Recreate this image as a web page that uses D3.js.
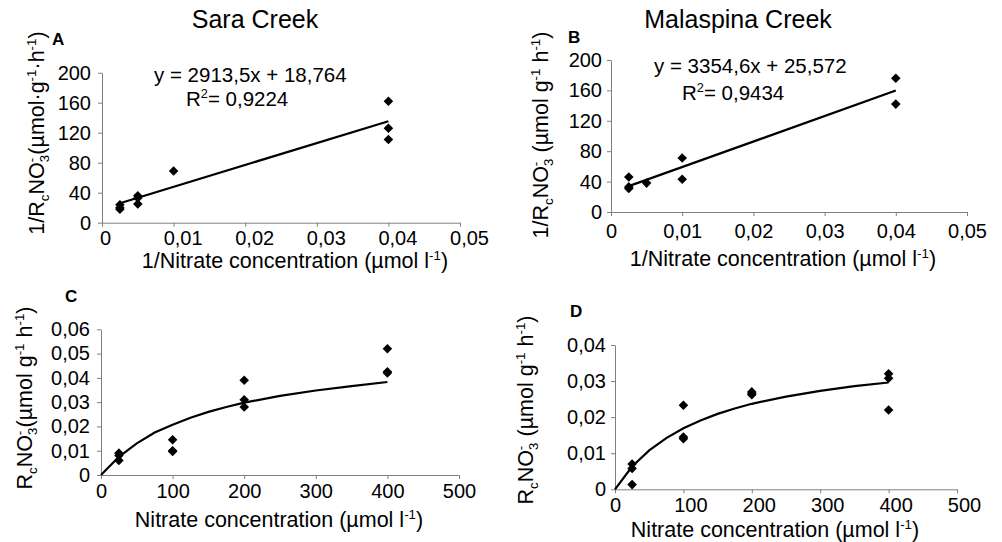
<!DOCTYPE html>
<html>
<head>
<meta charset="utf-8">
<script src="https://cdn.jsdelivr.net/npm/d3@7"></script>
<style>
  body { margin: 0; background: #fff; }
  svg { display: block; font-family: "Liberation Sans", Arial, sans-serif; }
  .domain, .tick line { stroke: #808080; }
</style>
</head>
<body>
<div id="chart"></div>
<script>
// ---- data ----
const titles = ["Sara Creek", "Malaspina Creek"];
const panelLetters = ["A", "B", "C", "D"];

const invTicks = [0, 0.01, 0.02, 0.03, 0.04, 0.05];
const invYTicks = [0, 40, 80, 120, 160, 200];
const concTicks = [0, 100, 200, 300, 400, 500];
const rateTicksC = [0, 0.01, 0.02, 0.03, 0.04, 0.05, 0.06];
const rateTicksD = [0, 0.01, 0.02, 0.03, 0.04];

// A: 1/rate vs 1/conc, Sara Creek
const saraInvX = [0.0025, 0.0025, 0.0025, 0.005, 0.005, 0.005, 0.01, 0.04, 0.04, 0.04];
const saraInvY = [24, 20, 18, 36, 33, 25, 69, 162, 126, 111];
const saraFit = [[0.0025, 26.0], [0.04, 135.3]];
// B: Malaspina Creek
const malaInvX = [0.0025, 0.0025, 0.0025, 0.005, 0.01, 0.01, 0.04, 0.04];
const malaInvY = [46, 33, 31, 38, 71, 43, 176, 142];
const malaFit = [[0.0025, 34.0], [0.04, 159.8]];

// C: rate vs conc, Sara Creek
const saraConc = [25, 25, 25, 100, 100, 100, 200, 200, 200, 400, 400, 400];
const saraRate = [0.009, 0.008, 0.006, 0.0145, 0.0100, 0.0097, 0.039, 0.031, 0.028, 0.052, 0.0425, 0.042];
const saraCurve = [[0, 0], [25, 0.0075], [50, 0.013], [75, 0.0175], [100, 0.0207], [125, 0.0236],
  [150, 0.026], [175, 0.028], [200, 0.0298], [250, 0.0326], [300, 0.0348], [350, 0.0366], [400, 0.0383]];
// D: Malaspina Creek
const malaConc = [25, 25, 25, 100, 100, 100, 200, 200, 200, 400, 400, 400];
const malaRate = [0.007, 0.0058, 0.0013, 0.0233, 0.0145, 0.014, 0.027, 0.0265, 0.0262, 0.032, 0.0308, 0.022];
const malaCurve = [[0, 0], [25, 0.0063], [50, 0.0108], [75, 0.0142], [100, 0.0169], [125, 0.0191],
  [150, 0.0209], [175, 0.0224], [200, 0.0237], [250, 0.0257], [300, 0.0273], [350, 0.0286], [400, 0.0296]];

const eqA = ["y = 2913,5x + 18,764", "0,9224"];
const eqB = ["y = 3354,6x + 25,572", "0,9434"];

const width = 1002, height = 542;
const fmt = d3.formatLocale({decimal: ",", thousands: " ", grouping: [3], currency: ["", ""]}).format("~g");

const svg = d3.select("#chart").append("svg")
    .attr("width", width)
    .attr("height", height);

// text with sub/superscripts, parts = [[text, kind]]
// "supstack" puts the superscript right above the preceding subscript
function richText(sel, parts, size) {
    let shift = 0, back = 0;
    parts.forEach(([t, k]) => {
        const target = (k === "sup" || k === "supstack") ? -0.38 * size : k === "sub" ? 0.25 * size : 0;
        const ts = sel.append("tspan")
            .attr("dy", target - shift)
            .style("font-size", (k ? size * 0.62 : size) + "px")
            .text(t);
        if (k === "supstack") {
            ts.attr("dx", -0.35 * size);
            back = 0.15 * size;
        } else if (back) {
            ts.attr("dx", back);
            back = 0;
        }
        shift = target;
    });
}

function drawPanel(p) {
    const x = d3.scaleLinear().domain(p.xDomain).range(p.xRange);
    const y = d3.scaleLinear().domain(p.yDomain).range(p.yRange);
    const g = svg.append("g");

    const xa = g.append("g")
        .attr("transform", `translate(0,${p.yRange[0]})`)
        .call(d3.axisBottom(x).tickValues(p.xTicks).tickFormat(fmt).tickSize(4).tickPadding(p.xPad).tickSizeOuter(0));
    xa.selectAll("text").attr("dx", d => d === 0 ? p.dx0 : p.dx);

    g.append("g")
        .attr("transform", `translate(${p.xRange[0]},0)`)
        .call(d3.axisLeft(y).tickValues(p.yTicks).tickFormat(fmt).tickSize(4).tickPadding(p.yPad).tickSizeOuter(0));

    g.selectAll(".tick text").attr("fill", "#000").style("font-size", "20px").style("font-family", null);
    g.selectAll(".domain").attr("stroke", "#808080");

    // fitted line
    g.append("path")
        .datum(p.fit)
        .attr("fill", "none")
        .attr("stroke", "#000")
        .attr("stroke-width", 2.2)
        .attr("d", d3.line().x(d => x(d[0])).y(d => y(d[1])));

    // points
    const sym = d3.symbol().type(d3.symbolSquare).size(46);
    g.selectAll(".pt")
        .data(p.xs.map((v, i) => [v, p.ys[i]]))
        .enter().append("path")
        .attr("class", "pt")
        .attr("d", sym)
        .attr("fill", "#000")
        .attr("transform", d => `translate(${x(d[0])},${y(d[1])}) rotate(45)`);

    // panel letter
    g.append("text")
        .attr("x", p.letterPos[0]).attr("y", p.letterPos[1])
        .style("font-size", "17px").style("font-weight", "bold")
        .text(p.letter);

    // axis titles
    const xl = g.append("text")
        .attr("x", p.xLabelPos[0]).attr("y", p.xLabelPos[1])
        .attr("text-anchor", "middle");
    richText(xl, p.xLabel, 21.5);

    const yl = g.append("text")
        .attr("transform", `translate(${p.yLabelPos[0]},${p.yLabelPos[1]}) rotate(-90)`)
        .attr("text-anchor", "middle");
    richText(yl, p.yLabel, 21.5);

    if (p.eq) {
        g.append("text")
            .attr("x", p.eqPos[0]).attr("y", p.eqPos[1])
            .style("font-size", "20.5px")
            .text(p.eq[0]);
        const r2 = g.append("text")
            .attr("x", p.eqPos[2]).attr("y", p.eqPos[3]);
        richText(r2, [["R", null], ["2", "sup"], ["= " + p.eq[1], null]], 20.5);
    }
}

const invXLabel = [["1/Nitrate concentration (µmol l", null], ["-1", "sup"], [")", null]];
const concXLabel = [["Nitrate concentration (µmol l", null], ["-1", "sup"], [")", null]];

drawPanel({
    letter: panelLetters[0], letterPos: [52, 45],
    xDomain: [0, 0.05], xRange: [102, 460], yDomain: [0, 200], yRange: [222.7, 72.7],
    xTicks: invTicks, yTicks: invYTicks, xPad: 4, yPad: 7, dx: 9, dx0: 3,
    xs: saraInvX, ys: saraInvY, fit: saraFit,
    xLabel: invXLabel, xLabelPos: [295, 268],
    yLabel: [["1/R", null], ["c", "sub"], ["NO", null], ["3", "sub"], ["-", "supstack"],
        ["(µmol·g", null], ["-1", "sup"], ["·h", null], ["-1", "sup"], [")", null]],
    yLabelPos: [44, 133],
    eq: eqA, eqPos: [154, 82, 186, 106]
});

drawPanel({
    letter: panelLetters[1], letterPos: [568, 43],
    xDomain: [0, 0.05], xRange: [611, 967], yDomain: [0, 200], yRange: [212, 60],
    xTicks: invTicks, yTicks: invYTicks, xPad: 8, yPad: 5, dx: 0, dx0: 0,
    xs: malaInvX, ys: malaInvY, fit: malaFit,
    xLabel: invXLabel, xLabelPos: [783, 266],
    yLabel: [["1/R", null], ["c", "sub"], ["NO", null], ["3", "sub"], ["-", "supstack"],
        ["  (µmol g", null], ["-1", "sup"], [" h", null], ["-1", "sup"], [")", null]],
    yLabelPos: [548, 135],
    eq: eqB, eqPos: [654, 73, 682, 100]
});

drawPanel({
    letter: panelLetters[2], letterPos: [65, 302],
    xDomain: [0, 500], xRange: [101, 459], yDomain: [0, 0.06], yRange: [475, 329.3],
    xTicks: concTicks, yTicks: rateTicksC, xPad: 5, yPad: 7, dx: 0, dx0: 0,
    xs: saraConc, ys: saraRate, fit: saraCurve,
    xLabel: concXLabel, xLabelPos: [279, 527],
    yLabel: [["R", null], ["c", "sub"], ["NO", null], ["3", "sub"], ["-", "supstack"],
        ["(µmol g", null], ["-1", "sup"], [" h", null], ["-1", "sup"], [")", null]],
    yLabelPos: [32, 398]
});

drawPanel({
    letter: panelLetters[3], letterPos: [570, 317],
    xDomain: [0, 500], xRange: [615, 957], yDomain: [0, 0.04], yRange: [489.3, 345],
    xTicks: concTicks, yTicks: rateTicksD, xPad: 5, yPad: 5, dx: 7, dx0: 0,
    xs: malaConc, ys: malaRate, fit: malaCurve,
    xLabel: concXLabel, xLabelPos: [775, 537],
    yLabel: [["R", null], ["c", "sub"], ["NO", null], ["3", "sub"], ["-", "supstack"],
        ["  (µmol g", null], ["-1", "sup"], [" h", null], ["-1", "sup"], [")", null]],
    yLabelPos: [533, 410]
});

// column titles
svg.selectAll(".title")
    .data(titles)
    .enter().append("text")
    .attr("class", "title")
    .attr("x", (d, i) => i === 0 ? 255 : 738)
    .attr("y", 28)
    .attr("text-anchor", "middle")
    .style("font-size", "25px")
    .text(d => d);
</script>
</body>
</html>
